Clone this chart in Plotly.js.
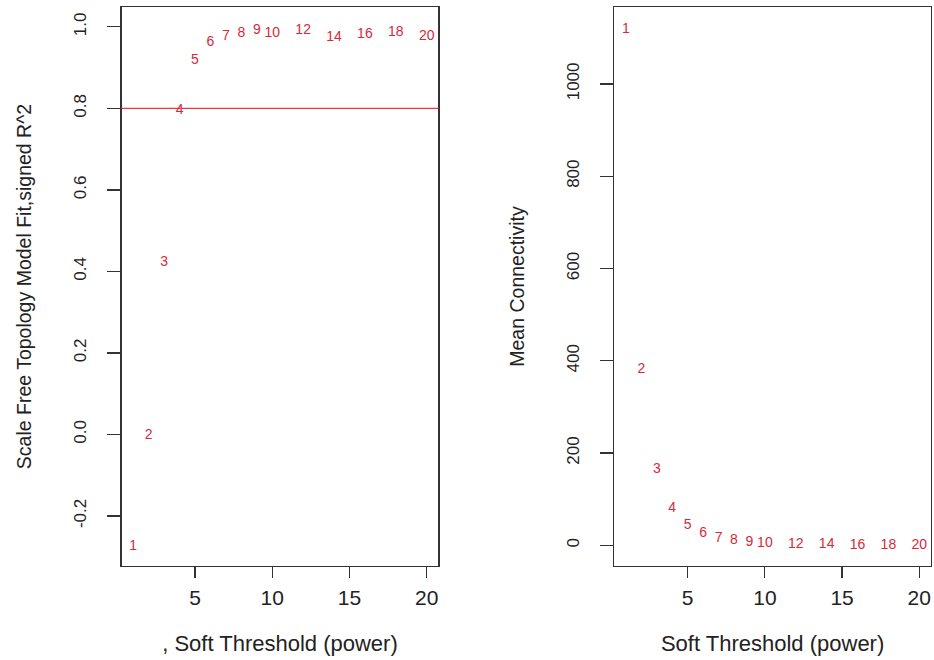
<!DOCTYPE html>
<html>
<head>
<meta charset="utf-8">
<script src="https://cdn.plot.ly/plotly-3.0.1.min.js"></script>
<style>html,body{margin:0;padding:0;background:#fff;}#chart{width:934px;height:660px;}</style>
</head>
<body>
<div id="chart"></div>
<script>
// Soft-threshold powers
const powers = [1, 2, 3, 4, 5, 6, 7, 8, 9, 10, 12, 14, 16, 18, 20];
// Scale free topology model fit, signed R^2
const fitR2 = [-0.274, -0.002, 0.422, 0.795, 0.917, 0.962, 0.977, 0.984, 0.990, 0.984, 0.992, 0.973, 0.982, 0.985, 0.977];
// Mean connectivity
const meanK = [1117, 382, 164, 80, 42, 26, 15, 10, 6, 3.5, 1.5, 0.9, 0.6, 0.4, 0.3];
// Cut-off line
const cutR2 = 0.8;
// Tick values
const xTicks = [5, 10, 15, 20];
const yTicksLeft = [-0.2, 0.0, 0.2, 0.4, 0.6, 0.8, 1.0];
const yTicksRight = [0, 200, 400, 600, 800, 1000];

const labels = powers.map(String);
const red = '#d8283a';
const axisCol = '#333333';
const font = 'Liberation Sans, Arial, sans-serif';

const traces = [
  {x: powers, y: fitR2, text: labels, mode: 'text', type: 'scatter',
   textposition: 'middle center', textfont: {family: font, size: 14, color: red},
   xaxis: 'x', yaxis: 'y', hoverinfo: 'x+y', showlegend: false},
  {x: powers, y: meanK, text: labels, mode: 'text', type: 'scatter',
   textposition: 'middle center', textfont: {family: font, size: 14, color: red},
   xaxis: 'x2', yaxis: 'y2', hoverinfo: 'x+y', showlegend: false}
];

const xBase = {
  range: [0.24, 20.76], tickvals: xTicks, ticks: 'outside', ticklen: 11, tickwidth: 1.2,
  tickcolor: axisCol, showgrid: false, zeroline: false, showline: true, mirror: true,
  linecolor: axisCol, linewidth: 1.3, ticklabelstandoff: 2,
  tickfont: {family: font, size: 21, color: '#222'}
};
const yBase = {
  ticks: 'outside', ticklen: 13, tickwidth: 1.2, tickcolor: axisCol, showgrid: false,
  zeroline: false, showline: true, mirror: true, linecolor: axisCol, linewidth: 1.3,
  tickangle: -90, ticklabelstandoff: 14,
  tickfont: {family: font, size: 17, color: '#222'}
};

const layout = {
  width: 934, height: 660,
  margin: {l: 0, r: 0, t: 0, b: 0},
  paper_bgcolor: '#fff', plot_bgcolor: '#fff',
  showlegend: false,
  xaxis: Object.assign({}, xBase, {domain: [0.1301, 0.4694], anchor: 'y',
    title: {text: ', Soft Threshold (power)', font: {family: font, size: 22, color: '#222'}, standoff: 27}}),
  yaxis: Object.assign({}, yBase, {domain: [0.1429, 0.9889], anchor: 'x',
    range: [-0.322, 1.048], tickvals: yTicksLeft, ticktext: yTicksLeft.map(v => v.toFixed(1)),
    title: {text: 'Scale Free Topology Model Fit,signed R^2', font: {family: font, size: 19.5, color: '#222'}, standoff: 34}}),
  xaxis2: Object.assign({}, xBase, {domain: [0.6576, 0.9968], anchor: 'y2',
    title: {text: 'Soft Threshold (power)', font: {family: font, size: 22, color: '#222'}, standoff: 27}}),
  yaxis2: Object.assign({}, yBase, {domain: [0.1429, 0.9889], anchor: 'x2',
    range: [-44, 1166], tickvals: yTicksRight, ticktext: yTicksRight.map(String),
    title: {text: 'Mean Connectivity', font: {family: font, size: 19.5, color: '#222'}, standoff: 34}}),
  shapes: [{type: 'line', xref: 'x domain', yref: 'y', x0: 0, x1: 1, y0: cutR2, y1: cutR2,
    line: {color: '#e8393f', width: 1.3}}]
};

Plotly.newPlot('chart', traces, layout, {displayModeBar: false, staticPlot: true});
</script>
</body>
</html>
